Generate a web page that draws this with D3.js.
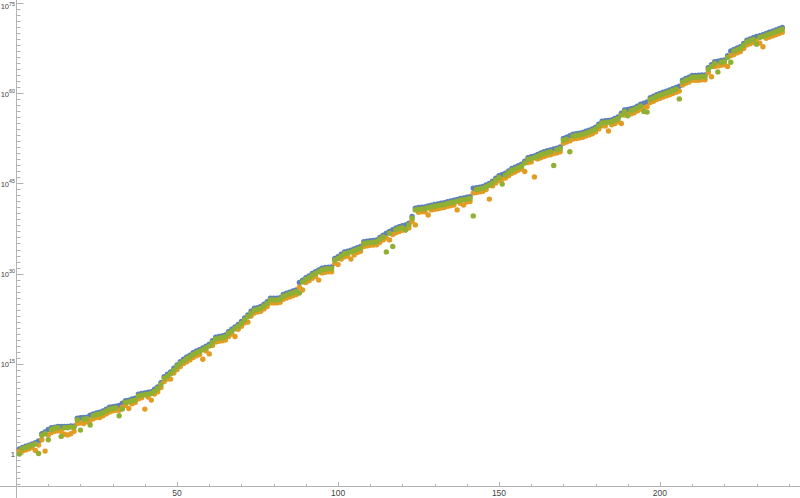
<!DOCTYPE html>
<html><head><meta charset="utf-8">
<script src="https://cdn.jsdelivr.net/npm/d3@7"></script>
<style>html,body{margin:0;padding:0;background:#fff;}svg{display:block;}</style>
</head><body>
<script>
// log10 of the plotted values, index n = 1..238
const blueLog10 = [
0.75,1.0,1.2,1.4,1.6,1.8,2.1,3.3,3.6,4.0,
4.3,4.4,4.5,4.5,4.5,4.5,4.6,4.6,5.9,5.95,
6.0,6.05,6.4,6.6,6.75,6.9,7.1,7.4,7.7,7.8,
7.9,8.0,8.4,8.8,8.9,9.1,9.2,9.9,10.0,10.1,
10.2,10.3,10.7,11.1,11.8,12.8,13.2,13.6,14.2,14.75,
15.3,15.7,16.1,16.4,16.8,17.1,17.3,17.6,17.9,18.2,
18.8,19.4,19.5,19.6,19.75,20.3,20.7,21.1,21.5,22.0,
22.6,23.1,23.7,24.2,24.3,24.5,24.9,25.3,25.9,25.9,
25.9,25.95,26.5,26.7,26.9,27.1,27.25,28.5,28.9,29.3,
29.6,30.0,30.3,30.6,30.9,31.0,31.05,31.1,32.5,32.8,
33.2,33.6,33.7,33.9,34.1,34.3,34.5,35.3,35.4,35.45,
35.5,35.6,36.0,36.4,36.7,37.0,37.3,37.6,37.8,37.95,
38.1,38.4,39.5,40.9,41.0,41.05,41.1,41.25,41.4,41.5,
41.6,41.7,41.8,41.95,42.1,42.2,42.35,42.5,42.6,42.7,
42.8,44.2,44.3,44.4,44.5,44.75,45.0,45.4,45.9,46.3,
46.5,46.7,47.1,47.5,47.7,47.95,48.2,48.7,49.3,49.45,
49.6,49.85,50.1,50.3,50.45,50.6,50.75,50.9,51.1,52.5,
52.7,52.95,53.2,53.3,53.4,53.5,53.7,53.9,54.1,54.4,
54.9,55.4,55.45,55.5,55.6,55.85,56.1,56.7,57.25,57.35,
57.45,57.6,57.9,58.2,58.4,58.6,59.3,59.55,59.8,60.0,
60.2,60.4,60.6,60.8,61.0,61.2,62.2,62.5,62.7,63.0,
63.0,63.05,63.1,63.1,64.3,64.8,65.3,65.4,65.5,65.6,
66.3,67.1,67.35,67.6,67.8,68.35,68.9,69.1,69.3,69.5,
69.65,69.8,70.0,70.2,70.4,70.6,70.8,71.0];

const orangeLog10 = [
0.4,0.4,0.6,0.8,1.0,0.5,1.4,2.3,0.4,3.1,
3.5,3.7,3.8,3.7,3.2,3.1,3.3,3.7,5.0,5.1,
5.0,5.3,5.5,5.8,6.0,6.0,6.3,6.6,6.9,7.1,
7.2,7.2,7.7,8.0,7.5,8.3,8.5,9.1,9.3,7.4,
9.4,8.9,9.9,10.3,11.0,12.0,12.4,12.4,13.4,14.0,
14.5,15.0,15.3,15.6,16.0,16.3,16.5,15.7,17.1,16.6,
18.0,18.6,18.7,18.8,18.9,19.5,19.9,19.5,20.7,21.2,
21.8,21.9,22.9,23.4,23.6,23.7,24.1,24.5,25.1,25.1,
25.1,25.2,25.7,25.9,26.1,26.3,26.5,27.7,27.25,28.5,
28.8,29.2,29.5,28.9,30.1,30.2,30.3,30.3,31.7,31.5,
32.4,32.8,32.9,32.4,33.1,33.5,33.7,34.5,34.6,34.7,
34.75,34.8,35.2,35.6,35.9,35.6,36.5,36.8,37.0,37.2,
37.3,37.6,38.7,38.1,40.2,40.3,40.3,39.75,40.6,40.7,
40.8,40.9,41.0,41.2,41.3,41.4,40.6,41.7,41.4,41.9,
42.0,43.4,43.5,43.6,43.7,44.0,42.4,44.6,45.1,45.5,
45.7,45.9,46.3,46.7,46.9,47.2,47.4,47.0,48.5,48.6,
46.1,49.1,49.3,49.5,49.7,49.8,50.0,50.1,50.3,51.7,
51.9,52.1,52.4,52.5,52.6,52.7,52.9,53.1,53.3,53.6,
54.1,54.6,54.6,53.75,54.8,55.0,55.3,55.0,56.4,56.5,
56.6,56.8,57.1,57.4,57.6,57.8,58.5,58.7,59.0,59.2,
59.4,59.6,59.8,60.0,60.2,60.4,61.4,61.7,61.9,62.2,
62.2,62.2,62.3,62.3,63.5,62.8,64.5,64.6,64.7,64.8,
64.5,66.3,66.5,66.8,67.0,67.5,68.1,68.3,68.5,68.7,
68.4,67.8,69.2,69.4,69.6,69.8,70.0,70.2];

const greenLog10 = [
-0.1,0.8,1.0,1.2,1.4,1.6,0.0,3.0,3.3,2.3,
4.0,4.2,4.3,2.85,4.3,4.3,4.4,4.4,5.6,3.9,
5.7,5.8,4.75,6.3,6.5,6.6,6.8,7.1,7.4,7.5,
7.6,6.3,7.4,8.5,8.6,8.8,8.9,9.6,9.7,9.8,
9.9,10.0,10.4,10.8,11.5,12.5,12.9,13.3,13.9,14.5,
15.0,15.4,15.8,16.1,16.5,16.8,17.0,17.3,17.6,17.9,
18.5,19.1,19.2,19.3,19.45,20.0,20.4,20.8,21.2,21.7,
22.3,22.8,23.4,23.9,24.0,24.2,24.6,25.0,25.6,25.6,
25.6,25.7,26.2,26.4,26.6,26.8,26.95,26.75,28.6,29.0,
29.3,29.7,30.0,30.3,30.6,30.7,30.8,30.8,32.2,32.5,
32.9,33.3,33.4,33.6,33.8,34.0,34.2,35.0,35.1,35.15,
35.2,35.3,35.7,36.1,33.6,36.7,34.5,37.3,37.5,37.65,
37.25,38.1,39.2,40.6,40.7,40.75,40.8,40.95,41.1,41.2,
41.3,41.4,41.5,41.65,41.8,41.9,42.05,42.2,42.3,42.4,
42.5,39.6,44.0,44.1,44.2,44.45,44.7,45.1,45.6,46.0,
44.9,46.4,46.8,47.2,47.4,47.65,47.9,48.4,49.0,49.15,
49.3,49.55,49.8,50.0,50.15,50.3,48.0,50.6,50.8,52.2,
52.4,50.3,52.9,53.0,53.1,53.2,53.4,53.6,53.8,54.1,
54.6,55.1,55.15,55.2,55.3,55.55,55.8,56.4,56.95,56.3,
57.15,57.3,57.6,57.9,57.0,56.9,59.0,59.25,59.5,59.7,
59.9,60.1,60.3,60.5,60.7,59.1,61.9,62.2,62.4,62.7,
62.7,62.75,62.8,62.8,64.0,64.5,65.0,63.6,65.2,65.3,
66.0,65.2,67.05,67.3,67.5,68.05,68.6,68.8,69.0,68.2,
69.35,69.5,69.7,69.9,70.1,70.3,70.5,70.7];

const seriesNames = ["blue","orange","green"];
const seriesColors = ["#5e81b5","#e19c24","#8fb032"];
const xMajorTicks = [50,100,150,200];
const yMajorExponents = [0,15,30,45,60,75];

const W = 800, H = 498;
const svg = d3.select("body").append("svg").attr("width",W).attr("height",H)
  .style("font-family","'Liberation Sans', Arial, sans-serif");

const x = d3.scaleLinear().domain([-5, 243.5]).range([0, W]);
const y = d3.scaleLog().domain([Math.pow(10,-5.58), Math.pow(10,75.58)]).range([487, 0]);

const axisColor = "#b3b3b3";
const textColor = "#444";

const xAxisY = Math.round(y(Math.pow(10,-5.58))) - 0.5;
const yAxisX = Math.round(x(0)) + 0.5;
svg.append("line").attr("x1",0).attr("x2",W).attr("y1",xAxisY).attr("y2",xAxisY)
  .attr("stroke",axisColor).attr("stroke-width",1);
svg.append("line").attr("x1",yAxisX).attr("x2",yAxisX).attr("y1",0).attr("y2",H)
  .attr("stroke",axisColor).attr("stroke-width",1);

// x ticks
const xMinor = d3.range(10, 241, 10).filter(v => !xMajorTicks.includes(v));
svg.selectAll(".xminor").data(xMinor).enter().append("line")
  .attr("x1",d=>Math.round(x(d))+0.5).attr("x2",d=>Math.round(x(d))+0.5).attr("y1",xAxisY).attr("y2",xAxisY-2.5)
  .attr("stroke",axisColor);
svg.selectAll(".xmajor").data(xMajorTicks).enter().append("line")
  .attr("x1",d=>Math.round(x(d))+0.5).attr("x2",d=>Math.round(x(d))+0.5).attr("y1",xAxisY).attr("y2",xAxisY-4.5)
  .attr("stroke",axisColor);
svg.selectAll(".xlab").data(xMajorTicks).enter().append("text")
  .attr("x",d=>x(d)).attr("y",xAxisY+9.5).attr("text-anchor","middle")
  .attr("font-size",8.5).attr("fill",textColor).text(d=>d);

// y ticks
const yMinor = d3.range(-5, 76, 1).filter(e => !yMajorExponents.includes(e));
svg.selectAll(".yminor").data(yMinor).enter().append("line")
  .attr("x1",yAxisX).attr("x2",yAxisX+4).attr("y1",d=>Math.round(y(Math.pow(10,d)))+0.5).attr("y2",d=>Math.round(y(Math.pow(10,d)))+0.5)
  .attr("stroke",axisColor);
svg.selectAll(".ymajor").data(yMajorExponents).enter().append("line")
  .attr("x1",yAxisX).attr("x2",yAxisX+7).attr("y1",d=>Math.round(y(Math.pow(10,d)))+0.5).attr("y2",d=>Math.round(y(Math.pow(10,d)))+0.5)
  .attr("stroke",axisColor);
yMajorExponents.forEach(e => {
  const yy = Math.max(y(Math.pow(10,e)), 6);
  const t = svg.append("text").attr("x", yAxisX-1.5).attr("y", yy+3.2).attr("text-anchor","end")
    .attr("font-size",7.6).attr("fill",textColor);
  if (e === 0) { t.text("1"); }
  else {
    t.append("tspan").text("10");
    t.append("tspan").attr("font-size",5.3).attr("dy",-3.6).text(e);
  }
});

// points
const allSeries = [blueLog10, orangeLog10, greenLog10];
allSeries.forEach((arr, i) => {
  svg.append("g").selectAll("circle").data(arr).enter().append("circle")
    .attr("cx",(d,k)=>x(k+1)).attr("cy",d=>y(Math.pow(10,d))).attr("r",2.7)
    .attr("fill",seriesColors[i]);
});
</script>
</body></html>
